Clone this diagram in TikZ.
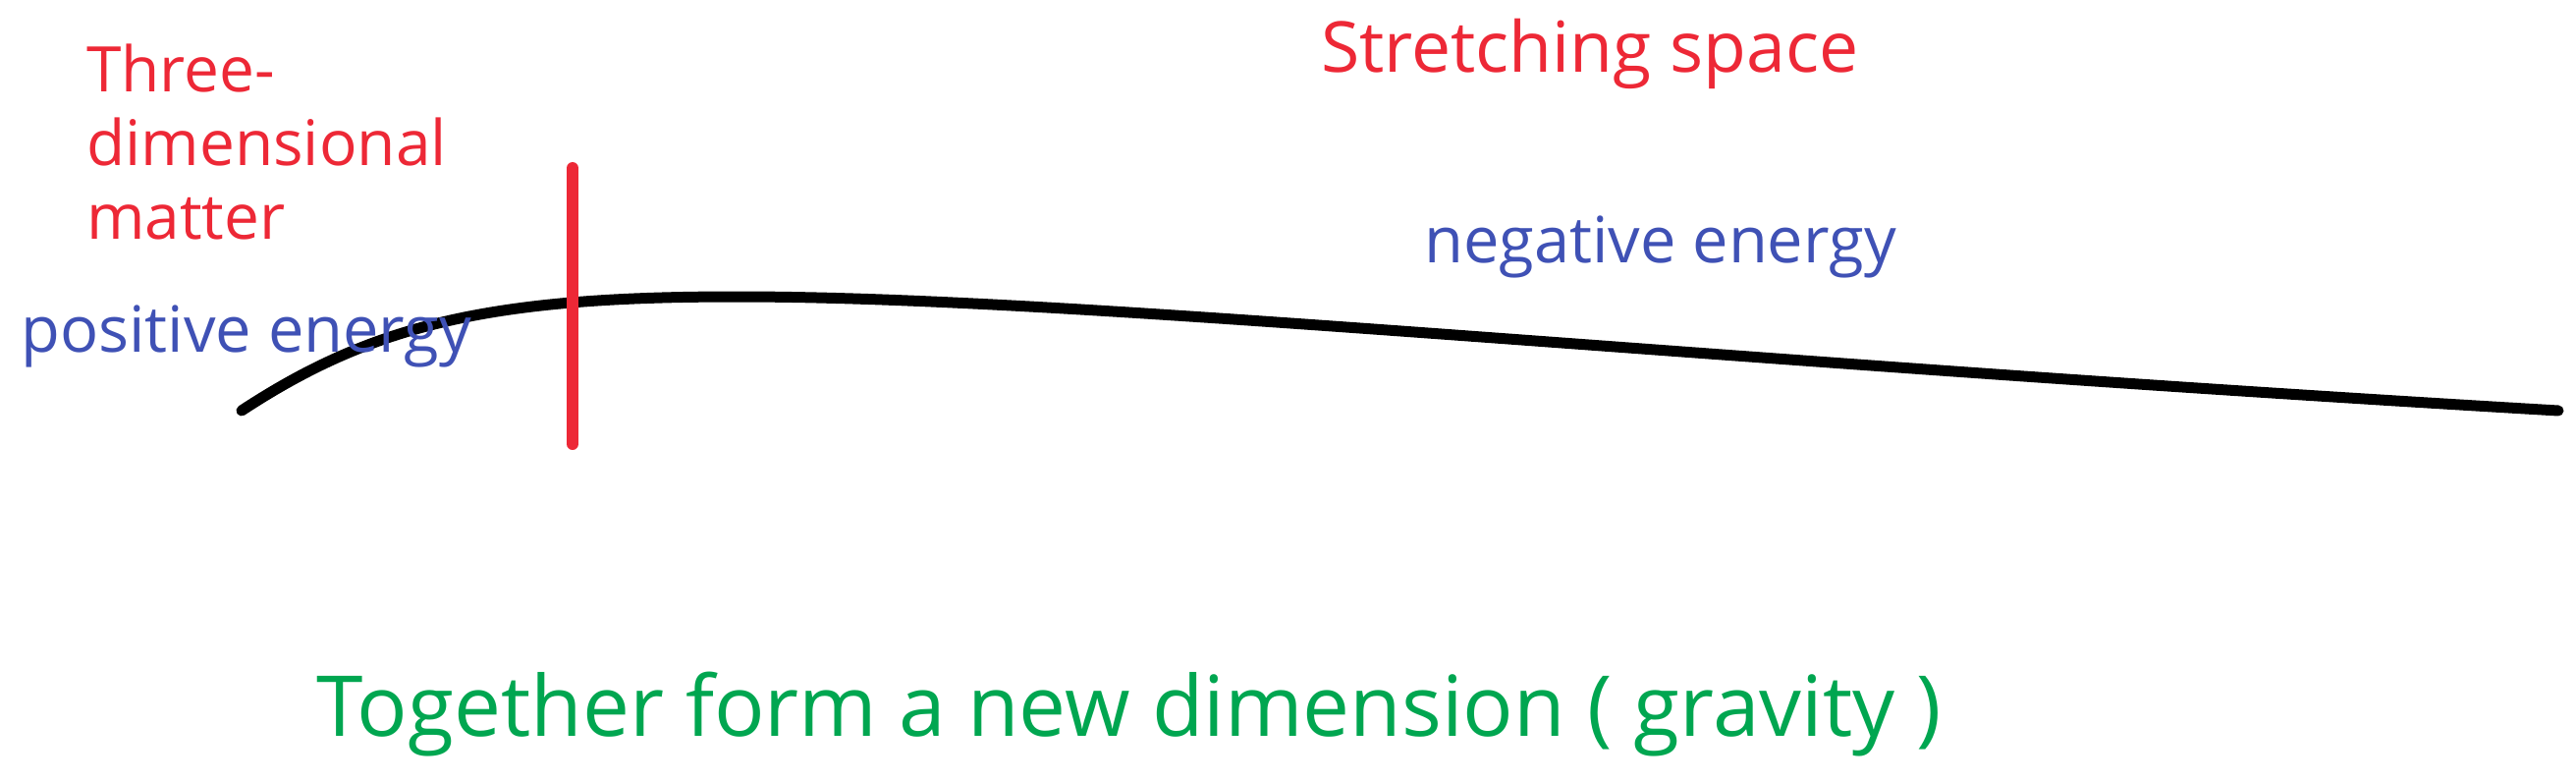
\documentclass[tikz,border=0pt]{standalone}
\usepackage{fontspec}
\setmainfont{Open Sans}
\definecolor{lblred}{RGB}{237,40,54}
\definecolor{lblblue}{RGB}{63,81,181}
\definecolor{lblgreen}{RGB}{0,166,80}
\tikzset{
  redtxt/.style={text=lblred, inner sep=0pt, anchor=base west},
  bluetxt/.style={text=lblblue, inner sep=0pt, anchor=base west},
  greentxt/.style={text=lblgreen, inner sep=0pt, anchor=base west},
  curve/.style={line width=11pt, line cap=round, line join=round},
  marker/.style={draw=lblred, line width=12pt, line cap=round}
}
\begin{document}
\begin{tikzpicture}[x=1pt,y=-1pt]
\useasboundingbox (0,0) rectangle (2623,795);
% curve
\coordinate (cs) at (246,418);
\coordinate (cp) at (750,302);
\coordinate (ce) at (2605,418);
\draw[curve] (cs) .. controls (380,330) and (500,302) .. (cp)
                  .. controls (1100,302) and (1700,365) .. (ce);
% red marker
\coordinate (mt) at (583,171);
\coordinate (mb) at (583,452);
\draw[marker] (mt) -- (mb);
% texts
\node[redtxt, font=\fontsize{64}{75}\selectfont, align=left, anchor=north west] (tdm) at (88,45) {Three-\\dimensional\\matter};
\node[redtxt, font=\fontsize{71.5}{85}\selectfont] (ss) at (1345,73) {Stretching space};
\node[bluetxt, font=\fontsize{65}{78}\selectfont] (pe) at (21,358) {positive energy};
\node[bluetxt, font=\fontsize{65}{78}\selectfont] (ne) at (1450,267) {negative energy};
\node[greentxt, font=\fontsize{85.6}{100}\selectfont] (tg) at (322,749) {Together form a new dimension ( gravity )};
\end{tikzpicture}
\end{document}
